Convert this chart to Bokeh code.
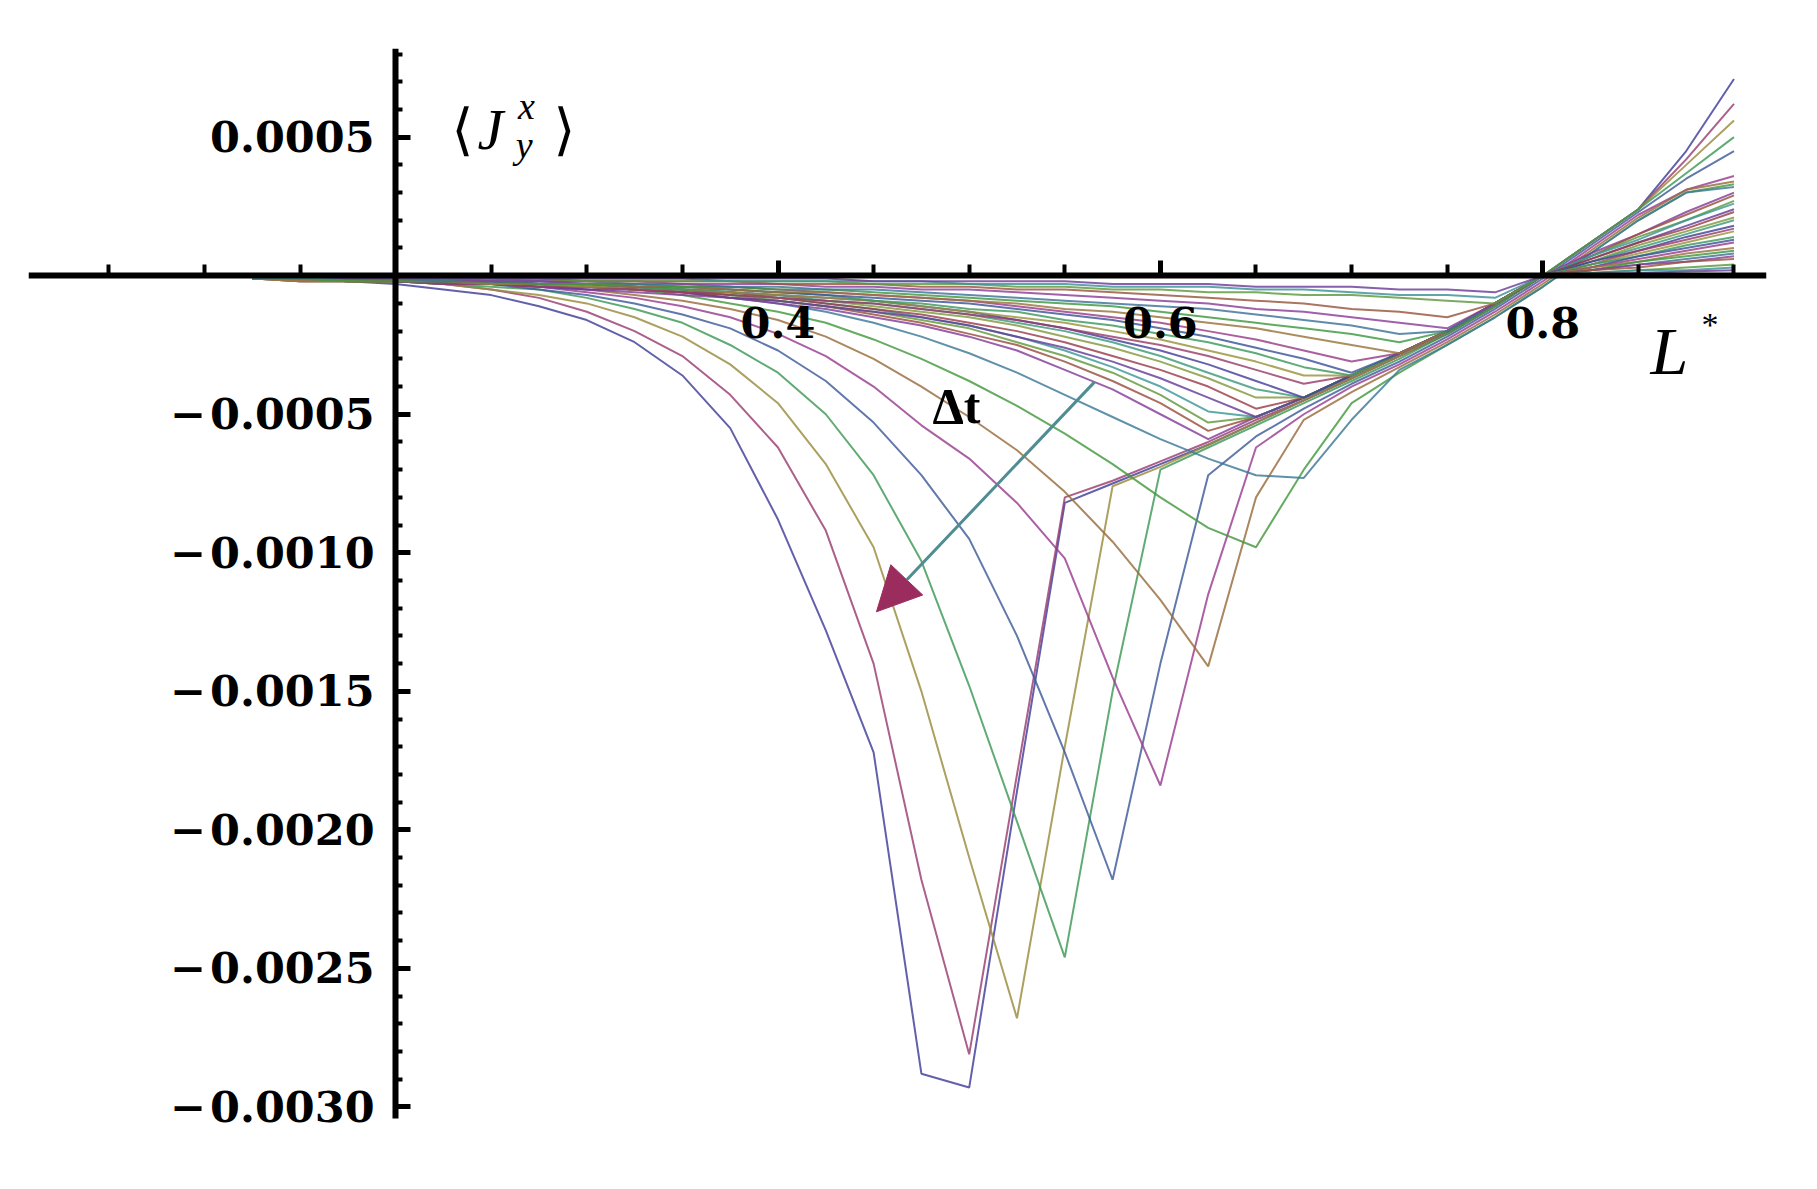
import colorsys
from bokeh.plotting import figure
from bokeh.models import (Range1d, FixedTicker, CustomJSTickFormatter, Label,
                          Arrow, NormalHead, ColumnDataSource)
from bokeh.embed import file_html
from bokeh.resources import INLINE

# ---------------- data ----------------
# L* sample points (x)
L_STAR = [0.125, 0.15, 0.175, 0.2, 0.225, 0.25, 0.275, 0.3, 0.325, 0.35, 0.375,
          0.4, 0.425, 0.45, 0.475, 0.5, 0.525, 0.55, 0.575, 0.6, 0.625, 0.65,
          0.675, 0.7, 0.725, 0.75, 0.775, 0.8, 0.825, 0.85, 0.875, 0.9]

# <J_y^x> values, in units of 1e-5, one list per curve (deep -> shallow)
J_UNIT = 1e-5
curve_01 = [-1, -1, -2, -3, -5, -7, -11, -16, -24, -36, -55, -88, -128, -172, -288, -293, -186, -82, -75, -68, -61, -53, -45, -37, -29, -21, -11, 0, 12, 24, 45, 71]
curve_02 = [-1, -1, -1, -2, -3, -5, -8, -13, -20, -29, -43, -62, -92, -140, -218, -281, -180, -80, -74, -67, -60, -52, -45, -37, -29, -21, -11, 0, 12, 24, 42, 62]
curve_03 = [0, -1, -1, -2, -3, -5, -7, -10, -15, -22, -32, -46, -68, -98, -150, -210, -268, -170, -76, -69, -61, -53, -45, -37, -29, -21, -11, 0, 12, 24, 40, 56]
curve_04 = [0, -1, -1, -2, -3, -4, -5, -8, -12, -17, -25, -35, -50, -72, -103, -148, -197, -246, -150, -70, -62, -54, -46, -38, -30, -21, -11, 0, 12, 24, 37, 50]
curve_05 = [0, 0, -1, -1, -2, -3, -5, -7, -10, -14, -19, -27, -38, -53, -72, -95, -130, -172, -218, -140, -72, -58, -48, -39, -31, -22, -12, -1, 11, 23, 35, 45]
curve_06 = [0, 0, -1, -1, -2, -3, -4, -6, -8, -11, -15, -21, -29, -40, -54, -66, -82, -102, -145, -184, -115, -62, -50, -40, -32, -23, -13, -2, 10, 22, 31, 36]
curve_07 = [0, 0, -1, -1, -2, -2, -3, -5, -7, -9, -12, -16, -22, -30, -40, -51, -63, -78, -96, -117, -141, -80, -52, -42, -33, -24, -14, -3, 9, 21, 31, 34]
curve_08 = [0, 0, 0, -1, -1, -2, -3, -4, -5, -7, -10, -13, -17, -23, -30, -38, -47, -57, -68, -80, -91, -98, -70, -46, -35, -25, -15, -4, 8, 20, 30, 33]
curve_09 = [0, 0, 0, -1, -1, -1, -2, -3, -4, -6, -8, -10, -13, -17, -22, -28, -35, -43, -51, -59, -66, -72, -73, -52, -34, -25, -15, -4, 8, 20, 30, 32]
curve_10 = [-1, -1, -2, -2, -2, -3, -4, -5, -6, -7, -8, -10, -12, -15, -18, -22, -27, -34, -41, -50, -59, -51, -44, -36, -28, -20, -10, 0, 8, 15, 23, 30]
curve_11 = [-1, -1, -2, -2, -2, -3, -3, -4, -5, -6, -8, -9, -11, -14, -17, -21, -25, -31, -38, -46, -56, -51, -44, -36, -28, -20, -10, 0, 7, 15, 22, 29]
curve_12 = [-1, -1, -1, -2, -2, -3, -3, -4, -5, -6, -7, -9, -11, -13, -16, -19, -24, -29, -35, -43, -53, -51, -44, -36, -28, -20, -10, 0, 7, 14, 20, 27]
curve_13 = [-1, -1, -1, -2, -2, -2, -3, -4, -4, -5, -7, -8, -10, -12, -15, -18, -22, -27, -33, -40, -49, -51, -44, -36, -28, -20, -10, 0, 7, 13, 20, 26]
curve_14 = [-1, -2, -2, -2, -3, -3, -4, -5, -5, -6, -8, -9, -11, -13, -15, -18, -22, -26, -31, -37, -44, -51, -44, -36, -28, -20, -10, 0, 6, 12, 18, 24]
curve_15 = [-1, -1, -2, -2, -2, -3, -3, -4, -5, -6, -7, -8, -10, -12, -14, -17, -20, -24, -29, -34, -40, -48, -44, -36, -28, -20, -10, 0, 6, 12, 17, 23]
curve_16 = [-1, -1, -2, -2, -2, -3, -3, -4, -5, -5, -6, -8, -9, -11, -13, -15, -18, -22, -26, -31, -37, -44, -44, -36, -28, -20, -10, 0, 5, 11, 16, 21]
curve_17 = [-1, -1, -1, -2, -2, -3, -3, -4, -4, -5, -6, -7, -9, -10, -12, -14, -17, -20, -24, -29, -35, -41, -44, -36, -28, -20, -10, 0, 5, 10, 15, 20]
curve_18 = [-1, -1, -1, -2, -2, -2, -3, -3, -4, -5, -6, -7, -8, -9, -11, -13, -16, -19, -23, -27, -32, -38, -44, -36, -28, -20, -10, 0, 5, 9, 14, 18]
curve_19 = [-1, -2, -2, -2, -3, -3, -4, -4, -5, -6, -6, -8, -9, -10, -12, -14, -16, -19, -22, -25, -29, -34, -39, -36, -28, -20, -10, 0, 4, 9, 13, 17]
curve_20 = [-1, -2, -2, -2, -2, -3, -3, -4, -4, -5, -6, -7, -8, -9, -11, -13, -15, -17, -20, -23, -27, -31, -36, -36, -28, -20, -10, 0, 4, 8, 12, 16]
curve_21 = [-1, -1, -2, -2, -2, -3, -3, -3, -4, -5, -5, -6, -7, -9, -10, -12, -13, -16, -18, -21, -24, -28, -33, -36, -28, -20, -10, 0, 4, 7, 11, 14]
curve_22 = [-1, -1, -1, -2, -2, -2, -3, -3, -4, -4, -5, -6, -7, -8, -9, -10, -12, -14, -16, -19, -22, -26, -30, -35, -28, -20, -10, 0, 3, 7, 10, 13]
curve_23 = [-1, -1, -1, -2, -2, -2, -2, -3, -3, -4, -4, -5, -6, -7, -8, -9, -11, -13, -15, -17, -20, -23, -27, -31, -28, -20, -10, 0, 3, 6, 9, 12]
curve_24 = [-1, -2, -2, -2, -2, -3, -3, -3, -4, -4, -5, -6, -6, -7, -8, -9, -10, -12, -13, -15, -17, -19, -22, -25, -28, -20, -10, 0, 3, 5, 8, 10]
curve_25 = [-1, -1, -2, -2, -2, -2, -3, -3, -3, -4, -4, -5, -5, -6, -7, -8, -9, -10, -11, -13, -15, -17, -19, -21, -24, -20, -10, 0, 2, 5, 7, 9]
curve_26 = [-1, -1, -1, -1, -2, -2, -2, -2, -3, -3, -4, -4, -5, -5, -6, -7, -8, -9, -10, -11, -12, -14, -16, -18, -21, -20, -10, 0, 2, 4, 6, 8]
curve_27 = [-1, -1, -1, -1, -1, -2, -2, -2, -2, -3, -3, -3, -4, -4, -5, -5, -6, -7, -8, -9, -10, -12, -13, -15, -17, -19, -10, 0, 2, 4, 5, 7]
curve_28 = [-1, -1, -1, -1, -1, -1, -1, -2, -2, -2, -2, -3, -3, -3, -4, -4, -5, -5, -6, -7, -8, -9, -10, -12, -13, -15, -10, 0, 2, 3, 5, 6]
curve_29 = [-1, -1, -1, -1, -1, -1, -1, -2, -2, -2, -2, -2, -2, -3, -3, -3, -4, -4, -5, -5, -6, -6, -7, -7, -8, -9, -10, 0, 1, 2, 3, 4]
curve_30 = [-1, -1, -1, -1, -1, -1, -1, -1, -1, -1, -2, -2, -2, -2, -2, -3, -3, -3, -4, -4, -4, -5, -5, -6, -7, -7, -8, 0, 1, 2, 2, 3]
curve_31 = [0, 0, -1, -1, -1, -1, -1, -1, -1, -1, -1, -1, -1, -2, -2, -2, -2, -2, -3, -3, -3, -4, -4, -4, -5, -5, -6, 0, 0.5, 1, 1.5, 2]

CURVES = [curve_01, curve_02, curve_03, curve_04, curve_05, curve_06, curve_07,
          curve_08, curve_09, curve_10, curve_11, curve_12, curve_13, curve_14,
          curve_15, curve_16, curve_17, curve_18, curve_19, curve_20, curve_21,
          curve_22, curve_23, curve_24, curve_25, curve_26, curve_27, curve_28,
          curve_29, curve_30, curve_31]

X_MAJOR = [0.4, 0.6, 0.8]
X_MINOR = [0.05, 0.1, 0.15, 0.25, 0.3, 0.35, 0.4, 0.45, 0.5, 0.55, 0.6, 0.65,
           0.7, 0.75, 0.8, 0.85, 0.9]
Y_MAJOR = [0.0005, -0.0005, -0.001, -0.0015, -0.002, -0.0025, -0.003]
Y_MINOR = [round(-0.003 + 0.0001 * i, 4) for i in range(39) if i != 30]

AXIS_CROSS_X = 0.2
X_AXIS_SPAN = (0.008, 0.917)
Y_AXIS_SPAN = (-0.00304, 0.00082)

# ---------------- figure ----------------
p = figure(frame_width=1738, frame_height=1100,
           x_range=Range1d(0.008, 0.917), y_range=Range1d(-0.00315, 0.00082),
           output_backend="svg", toolbar_location=None,
           min_border_left=28, min_border_top=48, min_border_right=30,
           min_border_bottom=12)
p.outline_line_color = None
p.grid.visible = False
p.background_fill_color = "white"


def mma_color(n):
    h = (0.67 + 0.236068 * n) % 1.0
    r, g, b = colorsys.hsv_to_rgb(h, 0.6, 0.6)
    return "#%02x%02x%02x" % (int(r * 255 + 0.5), int(g * 255 + 0.5), int(b * 255 + 0.5))


src = ColumnDataSource(dict(
    xs=[L_STAR for _ in CURVES],
    ys=[[v * J_UNIT for v in c] for c in CURVES],
    color=[mma_color(i) for i in range(len(CURVES))],
))
p.multi_line("xs", "ys", source=src, line_color="color", line_width=2.0,
             line_alpha=0.82)

# ---------------- axes (Mathematica style, crossing at (0.2, 0)) ----------------
xa = p.xaxis[0]
ya = p.yaxis[0]
xa.fixed_location = 0
ya.fixed_location = AXIS_CROSS_X
xa.bounds = X_AXIS_SPAN
ya.bounds = Y_AXIS_SPAN
xa.ticker = FixedTicker(ticks=X_MAJOR, minor_ticks=X_MINOR)
ya.ticker = FixedTicker(ticks=Y_MAJOR, minor_ticks=Y_MINOR)
xa.formatter = CustomJSTickFormatter(code="return tick.toFixed(1);")
ya.formatter = CustomJSTickFormatter(
    code="const s = Math.abs(tick).toFixed(4); return tick < 0 ? '\u2212\u200a' + s : s;")
for ax in (xa, ya):
    ax.axis_line_width = 6
    ax.axis_line_color = "black"
    ax.major_tick_line_width = 5
    ax.minor_tick_line_width = 4
    ax.major_tick_line_color = "black"
    ax.minor_tick_line_color = "black"
    ax.major_tick_out = 0
    ax.minor_tick_out = 0
    ax.major_label_text_font = "DejaVu Serif"
    ax.major_label_text_font_style = "bold"
    ax.major_label_text_font_size = "43px"
    ax.major_label_text_color = "black"
xa.major_tick_in = 15
xa.minor_tick_in = 11
xa.major_label_standoff = 31
ya.major_tick_in = 15
ya.minor_tick_in = 7
ya.major_label_standoff = 21

# ---------------- annotations ----------------
serif = "Liberation Serif"
p.add_layout(Label(x=0.2292, y=0.000526, text="\u27e8", text_font="DejaVu Serif",
                   text_font_size="56px", text_baseline="middle", text_color="black"))
p.add_layout(Label(x=0.2428, y=0.000526, text="J", text_font=serif,
                   text_font_style="italic", text_font_size="58px",
                   text_baseline="middle", text_color="black"))
p.add_layout(Label(x=0.2640, y=0.000614, text="x", text_font=serif,
                   text_font_style="italic", text_font_size="38px",
                   text_baseline="middle", text_color="black"))
p.add_layout(Label(x=0.2628, y=0.000470, text="y", text_font=serif,
                   text_font_style="italic", text_font_size="38px",
                   text_baseline="middle", text_color="black"))
p.add_layout(Label(x=0.2826, y=0.000526, text="\u27e9", text_font="DejaVu Serif",
                   text_font_size="56px", text_baseline="middle", text_color="black"))

p.add_layout(Label(x=0.8563, y=-0.000272, text="L", text_font=serif,
                   text_font_style="italic", text_font_size="68px",
                   text_baseline="middle", text_color="black"))
p.add_layout(Label(x=0.8830, y=-0.000175, text="*", text_font=serif,
                   text_font_size="34px", text_baseline="middle", text_color="black"))

p.add_layout(Label(x=0.4808, y=-0.000469, text="\u0394t", text_font=serif,
                   text_font_style="bold", text_font_size="50px",
                   text_baseline="middle", text_color="black"))

p.add_layout(Arrow(x_start=0.5655, y_start=-0.000384, x_end=0.4515, y_end=-0.001213,
                   line_color="#4f8d93", line_width=3,
                   end=NormalHead(size=44, fill_color="#9b2c5e",
                                  line_color="#9b2c5e")))

open("out.html", "w").write(file_html(p, INLINE))
